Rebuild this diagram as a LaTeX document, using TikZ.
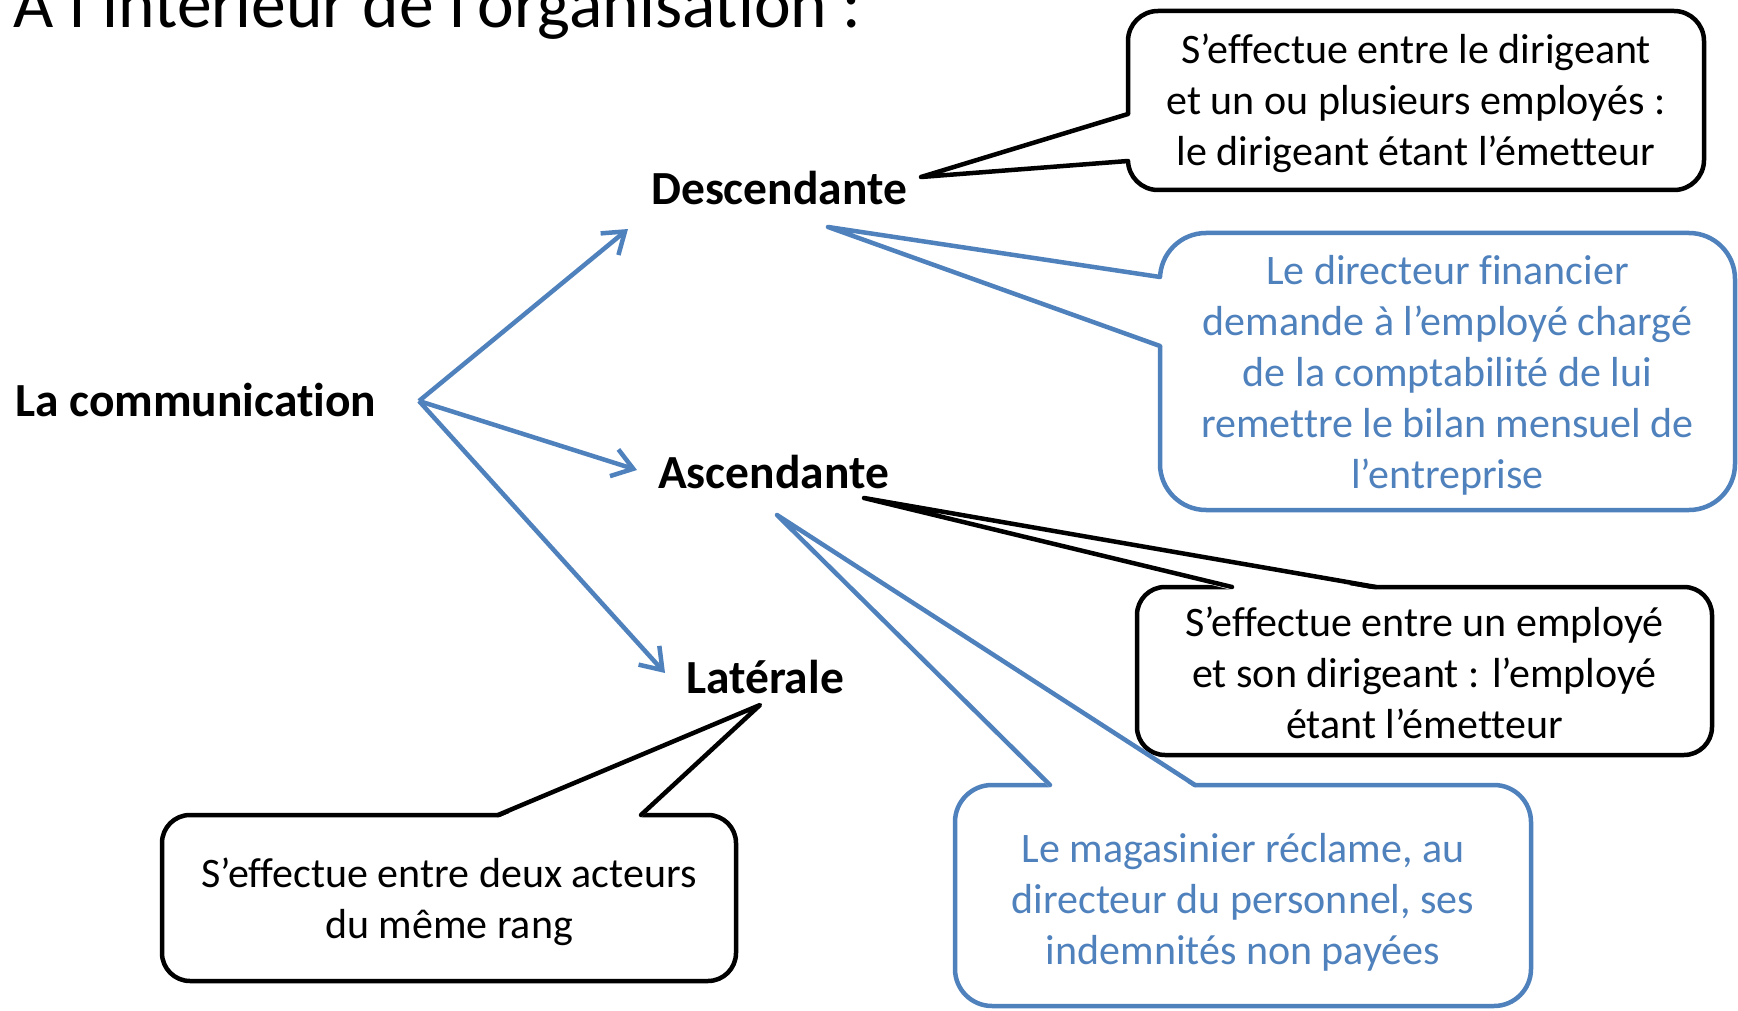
\documentclass[tikz,border=0pt]{standalone}
\usepackage{fontspec}
\setmainfont[Ligatures=NoCommon]{Carlito}
\usetikzlibrary{arrows.meta,calc}
\definecolor{ofblue}{RGB}{79,129,189}
\newcommand\cst{\rule[-0.2em]{0pt}{1em}}
\newcommand\cfirst[1]{\rule[-0.2em]{0pt}{#1}}
\begin{document}
\begin{tikzpicture}[x=1pt,y=-1pt,
  lbl/.style={font=\fontsize{47.5}{57}\selectfont\bfseries, inner sep=0pt, anchor=base west},
  cbox/.style={draw, fill=white, line width=4.5pt, inner sep=0pt, align=center, font=\fontsize{42}{51}\selectfont},
  bluebox/.style={cbox, draw=ofblue, text=ofblue},
  ptr/.style={line width=4.5pt, line join=round, line cap=round},
  arr/.style={draw=ofblue, line width=4.5pt, -{Straight Barb[length=20pt,width=28pt]}}]
\useasboundingbox (0,0) rectangle (1738,1011);
\fill[white] (0,0) rectangle (1738,1011);

% title (clipped at top)
\node[font=\fontsize{69.5}{74}\selectfont, anchor=base west, inner sep=0pt] (title) at (13,28) {A l’intérieur de l’organisation :};

% labels
\node[lbl] (comm) at (15,416) {La communication};
\node[lbl] (desc) at (651,205) {Descendante};
\node[lbl] (asc) at (658,488) {Ascendante};
\node[lbl] (lat) at (686,693) {Latérale};

% arrows
\coordinate (src) at (419,401);
\coordinate (aD) at (628,229);
\coordinate (aA) at (637,470);
\coordinate (aL) at (665,673);
\draw[arr] (src) -- (aD);
\draw[arr] (src) -- (aA);
\draw[arr] (src) -- (aL);

% callout 1
\node[cbox, rounded corners=30pt, minimum width=576pt, minimum height=179pt] (c1) at (1416,100.5)
  {\cfirst{45pt}S’effectue entre le dirigeant\\ \cst et un ou plusieurs employés :\\ \cst le dirigeant étant l’émetteur};
\coordinate (t1) at (921,177);
\coordinate (b1a) at (1128,114);
\coordinate (b1b) at (1128,161);
\fill[white] ($(b1a)+(3,0)$) -- (t1) -- ($(b1b)+(3,0)$) -- cycle;
\draw[ptr] (b1a) -- (t1) -- (b1b);

% callout 2
\node[bluebox, rounded corners=46pt, minimum width=575pt, minimum height=277pt] (c2) at (1447.5,371.5)
  {\cfirst{46.5pt}Le directeur financier\\ \cst demande à l’employé chargé\\ \cst de la comptabilité de lui\\ \cst remettre le bilan mensuel de\\ \cst l’entreprise};
\coordinate (t2) at (828,227);
\coordinate (b2a) at (1160,277);
\coordinate (b2b) at (1160,346);
\fill[white] ($(b2a)+(3,0)$) -- (t2) -- ($(b2b)+(3,0)$) -- cycle;
\draw[ptr, draw=ofblue] (b2a) -- (t2) -- (b2b);

% callout 3
\node[cbox, rounded corners=28pt, minimum width=575pt, minimum height=168pt] (c3) at (1424.5,671)
  {\cfirst{49pt}S’effectue entre un employé\\ \cst et son dirigeant : l’employé\\ \cst étant l’émetteur};
\coordinate (t3) at (864,498);
\coordinate (b3a) at (1232,587);
\coordinate (b3b) at (1376,587);
\fill[white] ($(b3a)+(0,3)$) -- (t3) -- ($(b3b)+(0,3)$) -- cycle;
\draw[ptr] (b3a) -- (t3) -- (b3b);

% callout 4
\node[bluebox, rounded corners=37pt, minimum width=576pt, minimum height=221pt] (c4) at (1243,895.5)
  {\cfirst{53pt}Le magasinier réclame, au\\ \cst directeur du personnel, ses\\ \cst indemnités non payées};
\coordinate (t4) at (777,515);
\coordinate (b4a) at (1050,785);
\coordinate (b4b) at (1195,785);
\fill[white] ($(b4a)+(0,3)$) -- (t4) -- ($(b4b)+(0,3)$) -- cycle;
\draw[ptr, draw=ofblue] (b4a) -- (t4) -- (b4b);

% callout 5
\node[cbox, rounded corners=28pt, minimum width=574pt, minimum height=166pt] (c5) at (449,898)
  {\cfirst{46.5pt}S’effectue entre deux acteurs\\ \cst du même rang};
\coordinate (t5) at (760,705);
\coordinate (b5a) at (498,815);
\coordinate (b5b) at (641,815);
\fill[white] ($(b5a)+(0,3)$) -- (t5) -- ($(b5b)+(0,3)$) -- cycle;
\draw[ptr] (b5a) -- (t5) -- (b5b);
\end{tikzpicture}
\end{document}
